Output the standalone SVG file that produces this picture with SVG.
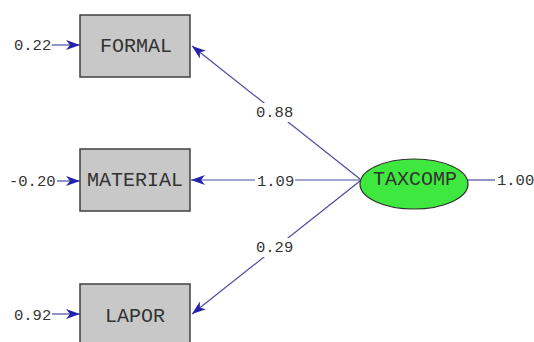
<svg xmlns="http://www.w3.org/2000/svg" width="534" height="342" viewBox="0 0 534 342">
<style>
.box{fill:#c8c8c8;stroke:#404040;stroke-width:1.5}
.lat{fill:#3ee83e;stroke:#303030;stroke-width:1.2}
.nl{font-family:"Liberation Mono","DejaVu Sans Mono",monospace;font-size:20px;fill:#333;text-anchor:middle}
.lb{font-family:"Liberation Mono","DejaVu Sans Mono",monospace;font-size:15.5px;fill:#333}
.c{stroke:#4a4aa0;stroke-width:1.2;fill:none}
.bg{fill:#fff}
</style>
<defs>
<marker id="ah" markerUnits="userSpaceOnUse" markerWidth="16" markerHeight="10" refX="14" refY="5" orient="auto">
<path d="M0,0 L14,5 L0,10 L4,5 z" fill="#2222aa"/>
</marker>
</defs>
<rect width="534" height="342" fill="#fff"/>
<g id="connectors">
<line class="c" x1="360" y1="179" x2="192" y2="46" marker-end="url(#ah)"/>
<line class="c" x1="360" y1="180" x2="191" y2="180" marker-end="url(#ah)"/>
<line class="c" x1="360" y1="181" x2="192" y2="314" marker-end="url(#ah)"/>
<line class="c" x1="468" y1="180" x2="495" y2="180"/>
<line class="c" x1="52" y1="45" x2="80" y2="45" marker-end="url(#ah)"/>
<line class="c" x1="57" y1="181" x2="80" y2="181" marker-end="url(#ah)"/>
<line class="c" x1="52" y1="314" x2="80" y2="314" marker-end="url(#ah)"/>
<rect class="bg" x="255" y="103" width="40" height="19"/>
<text class="lb" x="256" y="117">0.88</text>
<rect class="bg" x="255" y="172" width="40" height="17"/>
<text class="lb" x="257" y="186">1.09</text>
<rect class="bg" x="255" y="238" width="40" height="19"/>
<text class="lb" x="256" y="252">0.29</text>
<text class="lb" x="14" y="50">0.22</text>
<text class="lb" x="9" y="186">-0.20</text>
<text class="lb" x="14" y="320">0.92</text>
<text class="lb" x="497" y="185">1.00</text>
</g>
<g id="FORMAL">
<rect class="box" x="80" y="15" width="110" height="62"/>
<text class="nl" x="136" y="52">FORMAL</text>
</g>
<g id="MATERIAL">
<rect class="box" x="80" y="149" width="110" height="62"/>
<text class="nl" x="135" y="186">MATERIAL</text>
</g>
<g id="LAPOR">
<rect class="box" x="80" y="284" width="110" height="62"/>
<text class="nl" x="135" y="322">LAPOR</text>
</g>
<g id="TAXCOMP">
<ellipse class="lat" cx="414" cy="184" rx="54" ry="25"/>
<text class="nl" x="415" y="185">TAXCOMP</text>
</g>
</svg>
